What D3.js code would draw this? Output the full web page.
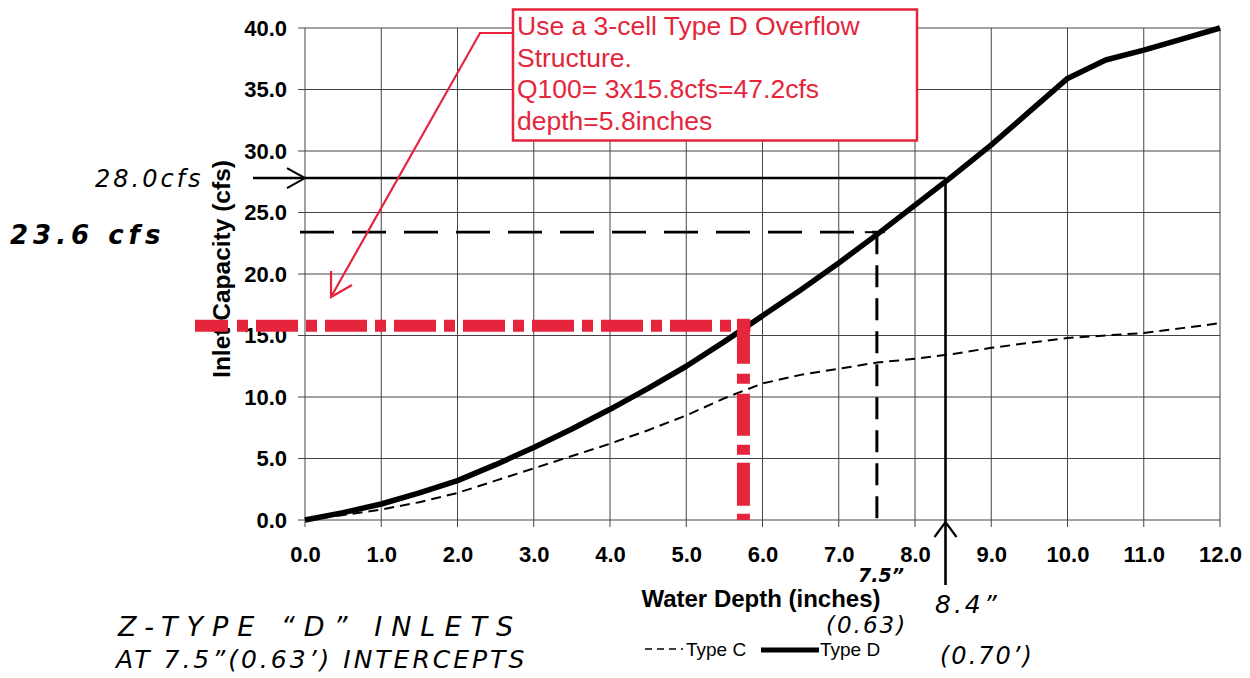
<!DOCTYPE html>
<html><head><meta charset="utf-8">
<script src="https://cdn.jsdelivr.net/npm/d3@7"></script>
<style>
html,body{margin:0;padding:0;background:#fff;}
svg{display:block;}
</style></head>
<body>
<svg id="c" width="1250" height="678"></svg>
<script>
// ---- data ----
const depthTicks = [0,1,2,3,4,5,6,7,8,9,10,11,12];
const capTicks = [0,5,10,15,20,25,30,35,40];
const depths = [0,0.5,1,1.5,2,2.5,3,3.5,4,4.5,5,5.5,6,6.5,7,7.5,8,8.5,9,9.5,10,10.5,11,11.5,12];
const typeD  = [0,0.6,1.3,2.2,3.2,4.5,5.9,7.4,9.0,10.7,12.5,14.5,16.6,18.7,20.9,23.2,25.6,28.0,30.5,33.2,35.9,37.4,38.2,39.1,40.0];
const typeC  = [0,0.4,0.85,1.45,2.2,3.2,4.2,5.2,6.2,7.3,8.5,9.9,11.1,11.8,12.3,12.8,13.1,13.5,14.0,14.4,14.8,15.0,15.2,15.6,16.0];
const seriesNames = ["Type C","Type D"];
// reference read-offs (depth, capacity)
const q100Cell = {depth:5.75, cap:15.8};
const twoInlet = {depth:7.5, cap:23.4};
const threeInlet = {depth:8.4, cap:27.8};
const boxLines = ["Use a 3-cell Type D Overflow","Structure.","Q100= 3x15.8cfs=47.2cfs","depth=5.8inches"];

const svg = d3.select("#c");
const x = d3.scaleLinear().domain([0,12]).range([305,1220]);
const y = d3.scaleLinear().domain([0,40]).range([520,28]);
const red = "#e5253c";
const FONT = "'Liberation Sans', Arial, sans-serif";
const HAND = "'DejaVu Sans', sans-serif";

// grid
const grid = svg.append("g");
grid.selectAll(".vg").data(depthTicks).join("line")
  .attr("x1", d=>x(d)).attr("x2", d=>x(d)).attr("y1", y(40)).attr("y2", y(0)+7)
  .attr("stroke", "#444").attr("stroke-width", 1);
grid.selectAll(".hg").data(capTicks).join("line")
  .attr("x1", x(0)-7).attr("x2", x(12)).attr("y1", d=>y(d)).attr("y2", d=>y(d))
  .attr("stroke", "#444").attr("stroke-width", 1);

// axes labels
const xAxis = d3.axisBottom(x).tickValues(depthTicks).tickFormat(d3.format(".1f")).tickSize(0).tickPadding(26);
const gx = svg.append("g").attr("transform", `translate(0,${y(0)})`).call(xAxis);
gx.select(".domain").remove();
gx.selectAll("text").attr("font-family", FONT).attr("font-weight","bold").attr("font-size", 22).attr("fill","#000");

const yAxis = d3.axisLeft(y).tickValues(capTicks).tickFormat(d3.format(".1f")).tickSize(0).tickPadding(18);
const gy = svg.append("g").attr("transform", `translate(${x(0)},0)`).call(yAxis);
gy.select(".domain").remove();
gy.selectAll("text").attr("font-family", FONT).attr("font-weight","bold").attr("font-size", 22).attr("fill","#000");

// axis titles
svg.append("text").attr("x", 761).attr("y", 607).attr("text-anchor","middle")
  .attr("font-family", FONT).attr("font-weight","bold").attr("font-size", 24).text("Water Depth (inches)");
svg.append("text").attr("transform","translate(230,269) rotate(-90)").attr("text-anchor","middle")
  .attr("font-family", FONT).attr("font-weight","bold").attr("font-size", 24.5).text("Inlet Capacity (cfs)");

// series
const line = d3.line().x(d=>x(d[0])).y(d=>y(d[1])).curve(d3.curveLinear);
svg.append("path").datum(depths.map((d,i)=>[d,typeC[i]])).attr("d", line)
  .attr("fill","none").attr("stroke","#000").attr("stroke-width",2).attr("stroke-dasharray","10,6");
svg.append("path").datum(depths.map((d,i)=>[d,typeD[i]])).attr("d", line)
  .attr("fill","none").attr("stroke","#000").attr("stroke-width",5.5).attr("stroke-linejoin","round");

// legend
const lg = svg.append("g");
lg.append("line").attr("x1",645).attr("x2",683).attr("y1",649).attr("y2",649)
  .attr("stroke","#000").attr("stroke-width",1.6).attr("stroke-dasharray","7,5");
lg.append("text").attr("x",686).attr("y",656).attr("font-family",FONT).attr("font-size",19).text(seriesNames[0]);
lg.append("line").attr("x1",761).attr("x2",819).attr("y1",650).attr("y2",650)
  .attr("stroke","#000").attr("stroke-width",5);
lg.append("text").attr("x",820).attr("y",656).attr("font-family",FONT).attr("font-size",19).text(seriesNames[1]);

// black dashed guide at 7.5 in
svg.append("line").attr("x1", 300).attr("x2", x(twoInlet.depth)).attr("y1", y(twoInlet.cap)).attr("y2", y(twoInlet.cap))
  .attr("stroke","#000").attr("stroke-width",2.8).attr("stroke-dasharray","34,18");
svg.append("line").attr("x1", x(twoInlet.depth)).attr("x2", x(twoInlet.depth)).attr("y1", y(twoInlet.cap)).attr("y2", y(0))
  .attr("stroke","#000").attr("stroke-width",3).attr("stroke-dasharray","22,11");
svg.append("line").attr("x1", x(twoInlet.depth)-12).attr("x2", x(twoInlet.depth)+8).attr("y1", y(twoInlet.cap)).attr("y2", y(twoInlet.cap))
  .attr("stroke","#000").attr("stroke-width",2);

// black solid guide at 8.4 in
const bx = x(threeInlet.depth), by = y(threeInlet.cap);
svg.append("line").attr("x1", 253).attr("x2", bx).attr("y1", by).attr("y2", by).attr("stroke","#000").attr("stroke-width",2.4);
svg.append("path").attr("d", `M${x(0)-18},${by-10} L${x(0)},${by} L${x(0)-18},${by+10}`).attr("fill","none").attr("stroke","#000").attr("stroke-width",2);
svg.append("line").attr("x1", bx).attr("x2", bx).attr("y1", by).attr("y2", 585).attr("stroke","#000").attr("stroke-width",2.6);
svg.append("path").attr("d", `M${bx-11},${y(0)+17} L${bx},${y(0)+2} L${bx+11},${y(0)+17}`).attr("fill","none").attr("stroke","#000").attr("stroke-width",2.2);

// red dash-dot guide at 15.8 cfs
svg.append("line").attr("x1", 195).attr("x2", x(q100Cell.depth)+7).attr("y1", y(q100Cell.cap)).attr("y2", y(q100Cell.cap))
  .attr("stroke",red).attr("stroke-width",12).attr("stroke-dasharray","33,9,11,8,42,8,11,8,42,8,11,8,42,8,11,8,42,8,11,8,42,8,11,8,42,8,11,8,42,8,11,8,42,8,11,8");
svg.append("line").attr("x1", x(q100Cell.depth)).attr("x2", x(q100Cell.depth)).attr("y1", y(q100Cell.cap)-7).attr("y2", y(0))
  .attr("stroke",red).attr("stroke-width",13).attr("stroke-dasharray","45,10,10,10,42,9,10,8,43,8,10,8");

// red callout box
svg.append("rect").attr("x",513).attr("y",9.5).attr("width",404).attr("height",131)
  .attr("fill","#fff").attr("stroke",red).attr("stroke-width",2.5);
svg.append("g").selectAll("text").data(boxLines).join("text")
  .attr("x",517).attr("y",(d,i)=>35+i*31.6).attr("font-family",FONT).attr("font-size",26.5).attr("fill",red).text(d=>d);
svg.append("path").attr("d","M513,33 L480,33 L331,297").attr("fill","none").attr("stroke",red).attr("stroke-width",2.2);
svg.append("path").attr("d","M331,271 L331,297 L352,285").attr("fill","none").attr("stroke",red).attr("stroke-width",2.2);

// handwritten notes
const hand = (t,xx,yy,fs,ls) => svg.append("text").attr("x",xx).attr("y",yy).attr("font-family",HAND)
  .attr("font-style","italic").attr("font-size",fs).attr("letter-spacing",ls).attr("fill","#000").text(t);
hand("28.0cfs",95,187,24,3);
hand("23.6 cfs",10,244,26,5).attr("font-weight","bold");
hand("Z-TYPE \u201cD\u201d INLETS",118,636,27,9);
hand("AT 7.5\u201d(0.63\u2019) INTERCEPTS",116,668,25,3);
hand("7.5\u201d",858,582,19,0).attr("font-weight","bold");
hand("(0.63)",826,633,23,2);
hand("8.4\u201d",935,613,25,3);
hand("(0.70\u2019)",940,664,24,2);
</script>
</body></html>
